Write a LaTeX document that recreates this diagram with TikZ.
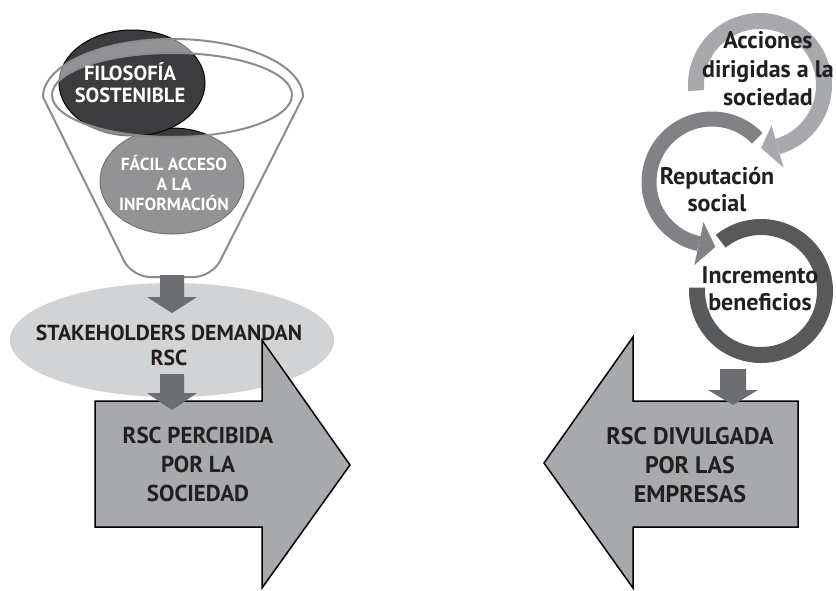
\documentclass[tikz,border=0pt]{standalone}
\usepackage{fontspec}
\setmainfont{PT Sans}
\usetikzlibrary{calc}
\definecolor{txt}{HTML}{231F20}
\definecolor{darkfill}{HTML}{3C3C3E}
\definecolor{funnelline}{HTML}{8A8C8E}
\definecolor{lightfill}{HTML}{D1D3D4}
\definecolor{bigfill}{HTML}{A7A9AC}
\definecolor{smallarrow}{HTML}{6D6E71}
\definecolor{ringA}{HTML}{A7A9AC}
\definecolor{ringB}{HTML}{808285}
\definecolor{ringC}{HTML}{58595B}
\tikzset{
  darkell/.style={fill=darkfill, draw=black, line width=1pt},
  funnelstroke/.style={draw=funnelline, line width=2pt},
  bigarrow/.style={fill=bigfill, draw=black, line width=1.5pt, line join=miter},
  downarrow/.style={fill=smallarrow},
  lbl/.style 2 args={text=txt, align=center, font=\bfseries\fontsize{#1}{#2}\selectfont, inner sep=0pt},
  wlbl/.style 2 args={text=white, align=center, font=\bfseries\fontsize{#1}{#2}\selectfont, inner sep=0pt},
}
\begin{document}
\begin{tikzpicture}[x=1pt,y=-1pt]
\useasboundingbox (0,0) rectangle (836,590);

% ---------- left side: funnel ----------
\path[darkell] (172,181) ellipse[x radius=72, y radius=53];
\path[darkell] (132,83) ellipse[x radius=73, y radius=53];
% translucent funnel body (outer shape minus mouth)
\fill[white, fill opacity=0.45, even odd rule]
  (43,97) arc[start angle=180, end angle=360, x radius=130, y radius=58]
  {[rounded corners=18] -- (212,277) -- (132,277)} -- cycle
  (172,95) ellipse[x radius=120, y radius=42];
\draw[funnelstroke]
  (43,97) arc[start angle=180, end angle=360, x radius=130, y radius=58]
  {[rounded corners=18] -- (212,277) -- (132,277)} -- cycle;
\draw[funnelstroke] (172,95) ellipse[x radius=120, y radius=42];

% stakeholders ellipse
\fill[lightfill] (172,340) ellipse[x radius=162, y radius=57];

% big right arrow
\path[bigarrow] (95,401) -- (262,401) -- (262,340) -- (350,465) -- (262,588) -- (262,527) -- (95,527) -- cycle;

% small down arrows
\fill[downarrow] (160,275) -- (184,275) -- (184,297) -- (197,297) -- (172,313) -- (147,297) -- (160,297) -- cycle;
\fill[downarrow] (160,374) -- (184,374) -- (184,393) -- (197,393) -- (172,410) -- (147,393) -- (160,393) -- cycle;

% ---------- right side: cycle ----------
\coordinate (cA) at (760,85);
\coordinate (cB) at (712,182);
\coordinate (cC) at (761,291);
\draw[ringA, line width=16pt] ($(cA)+(175:64)$) arc[start angle=175, end angle=434, radius=64];
\fill[ringA] ($(cA)+(434:42)$) -- ($(cA)+(434:86)$) -- ($(cA)+(449:63)$) -- cycle;
\draw[ringB, line width=15pt] ($(cB)+(316:63)$) arc[start angle=316, end angle=102, radius=63];
\fill[ringB] ($(cB)+(102:41)$) -- ($(cB)+(102:85)$) -- ($(cB)+(87:65)$) -- cycle;
\draw[ringC, line width=16pt] ($(cC)+(231:64)$) arc[start angle=231, end angle=543, radius=64];

% big left arrow
\path[bigarrow] (798,401) -- (633,401) -- (633,337) -- (544,463) -- (633,588) -- (633,527) -- (798,527) -- cycle;
\fill[downarrow] (720,369) -- (746,369) -- (746,390) -- (758,390) -- (733,405) -- (708,390) -- (720,390) -- cycle;

% ---------- labels ----------
\node[wlbl={20.5}{22}] (filo) at (130,83) {FILOSOFÍA\\SOSTENIBLE};
\node[wlbl={17.5}{20}] (facil) at (174,183) {FÁCIL ACCESO\\A LA\\INFORMACIÓN};
\node[lbl={21.7}{25}] (stake) at (169,345) {STAKEHOLDERS DEMANDAN\\RSC};
\node[lbl={23}{29}] (perc) at (198,464) {RSC PERCIBIDA\\POR LA\\SOCIEDAD};
\node[lbl={24}{29}] (divu) at (690,465) {RSC DIVULGADA\\POR LAS\\EMPRESAS};
\node[lbl={24}{28.5}] (acc) at (768,69) {Acciones\\dirigidas a la\\sociedad};
\node[lbl={24}{27}] (rep) at (717,190) {Reputación\\social};
\node[lbl={24}{27}] (inc) at (760,289) {Incremento\\beneficios};
\end{tikzpicture}
\end{document}
